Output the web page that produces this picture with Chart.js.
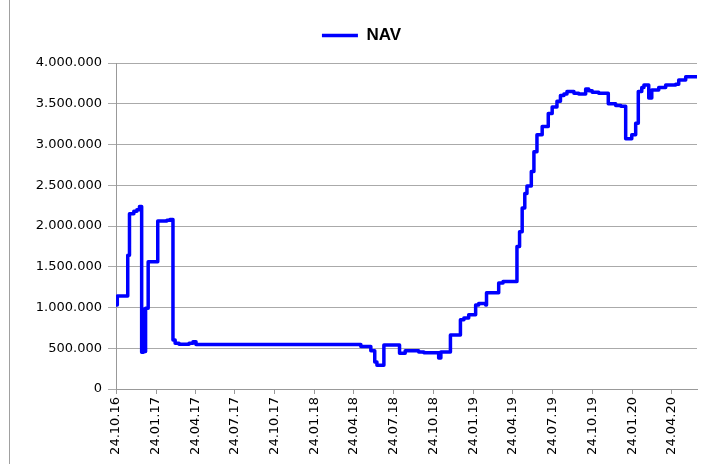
<!DOCTYPE html>
<html>
<head>
<meta charset="utf-8">
<script src="https://cdn.jsdelivr.net/npm/chart.js@4/dist/chart.umd.min.js"></script>
<style>
  body { margin: 0; background: #fff; }
  #wrap { position: relative; width: 707px; height: 464px; }
  #frame { position: absolute; left: 9px; top: 0; width: 1px; height: 464px; background: #a0a0a0; }
</style>
</head>
<body>
<div id="wrap">
  <canvas id="nav" width="707" height="464"></canvas>
  <div id="frame"></div>
</div>
<script>
// x axis tick labels (dd.mm.yy)
const tickLabels = [
  "24.10.16", "24.01.17", "24.04.17", "24.07.17", "24.10.17",
  "24.01.18", "24.04.18", "24.07.18", "24.10.18", "24.01.19",
  "24.04.19", "24.07.19", "24.10.19", "24.01.20", "24.04.20",
];

// dates where NAV changed, and the new value from that date on
const navDates = [
  "2016-10-24", "2016-10-27", "2016-11-20", "2016-11-24", "2016-12-04",
  "2016-12-11", "2016-12-17", "2016-12-22", "2016-12-26", "2016-12-28",
  "2016-12-31", "2017-01-06", "2017-01-28", "2017-02-18", "2017-02-25",
  "2017-03-04", "2017-03-09", "2017-03-18", "2017-04-10", "2017-04-19",
  "2017-04-26", "2018-05-10", "2018-06-02", "2018-06-11", "2018-06-16",
  "2018-07-02", "2018-08-07", "2018-08-20", "2018-09-20", "2018-10-02",
  "2018-11-05", "2018-11-10", "2018-12-02", "2018-12-25", "2019-01-02",
  "2019-01-13", "2019-01-29", "2019-02-05", "2019-02-21", "2019-02-23",
  "2019-03-23", "2019-04-02", "2019-05-04", "2019-05-10", "2019-05-16",
  "2019-05-22", "2019-05-27", "2019-06-06", "2019-06-12", "2019-06-19",
  "2019-07-01", "2019-07-15", "2019-07-24", "2019-08-04", "2019-08-12",
  "2019-08-20", "2019-08-27", "2019-09-12", "2019-09-23", "2019-10-09",
  "2019-10-16", "2019-10-24", "2019-11-08", "2019-11-30", "2019-12-17",
  "2019-12-29", "2020-01-09", "2020-01-23", "2020-02-01", "2020-02-07",
  "2020-02-15", "2020-02-20", "2020-03-02", "2020-03-09", "2020-03-25",
  "2020-04-10", "2020-05-03", "2020-05-10", "2020-05-26", "2020-06-21",
];
const navValues = [
  1030000, 1140000, 1640000, 2150000, 2180000,
  2200000, 2240000, 450000, 980000, 460000,
  990000, 1560000, 2060000, 2070000, 2080000,
  600000, 560000, 550000, 560000, 580000,
  545000, 520000, 470000, 330000, 290000,
  540000, 440000, 470000, 455000, 445000,
  380000, 455000, 662000, 850000, 870000,
  910000, 1030000, 1050000, 1030000, 1180000,
  1300000, 1320000, 1750000, 1930000, 2220000,
  2400000, 2490000, 2670000, 2910000, 3120000,
  3220000, 3380000, 3460000, 3530000, 3600000,
  3620000, 3650000, 3630000, 3620000, 3680000,
  3660000, 3640000, 3630000, 3500000, 3480000,
  3470000, 3070000, 3120000, 3260000, 3650000,
  3700000, 3730000, 3570000, 3670000, 3700000,
  3730000, 3740000, 3790000, 3830000, 3830000,
];

const DAY = 86400000;
const start = Date.UTC(2016, 9, 24);

function isoToDay(s) {
  const [y, m, d] = s.split("-").map(Number);
  return (Date.UTC(y, m - 1, d) - start) / DAY;
}
function labelToDay(s) {
  const [d, m, y] = s.split(".").map(Number);
  return (Date.UTC(2000 + y, m - 1, d) - start) / DAY;
}
function dots(v) {
  return String(v).replace(/\B(?=(\d{3})+(?!\d))/g, ".");
}

const tickDays = tickLabels.map(labelToDay);
const points = navDates.map((d, i) => ({ x: isoToDay(d), y: navValues[i] }));

// push the legend down a bit and a little to the right
const legendSpacing = {
  id: "legendSpacing",
  beforeInit(chart) {
    const fit = chart.legend.fit;
    chart.legend.fit = function () {
      fit.bind(chart.legend)();
      this.height += 9;
    };
  },
  afterLayout(chart) {
    chart.legend.left += 8;
    chart.legend.right += 8;
  },
};

const tickFont = { family: "DejaVu Sans", size: 13 };

new Chart(document.getElementById("nav"), {
  type: "line",
  data: {
    datasets: [
      {
        label: "NAV",
        data: points,
        borderColor: "#0000ff",
        backgroundColor: "#0000ff",
        borderWidth: 3.5,
        borderJoinStyle: "round",
        pointRadius: 0,
        stepped: "before",
        fill: false,
      },
    ],
  },
  options: {
    responsive: false,
    animation: false,
    layout: {
      padding: { top: 10, left: 10, right: 10, bottom: 0 },
    },
    scales: {
      x: {
        type: "linear",
        min: 0,
        max: isoToDay(navDates[navDates.length - 1]),
        afterBuildTicks: (scale) => {
          scale.ticks = tickDays.map((v) => ({ value: v }));
        },
        afterFit: (scale) => {
          scale.height = 75;
        },
        ticks: {
          autoSkip: false,
          minRotation: 90,
          maxRotation: 90,
          padding: 3,
          color: "#000",
          font: tickFont,
          callback: (value, index) => tickLabels[index],
        },
        grid: {
          drawOnChartArea: false,
          drawTicks: true,
          tickLength: 5,
          color: "#999",
        },
        border: { color: "#999" },
      },
      y: {
        min: 0,
        max: 4000000,
        afterFit: (scale) => {
          scale.width = 106;
        },
        ticks: {
          stepSize: 500000,
          padding: 6,
          color: "#000",
          font: tickFont,
          callback: (value) => dots(value),
        },
        grid: {
          color: "#aaa",
          tickLength: 8,
        },
        border: { color: "#999" },
      },
    },
    plugins: {
      legend: {
        position: "top",
        labels: {
          usePointStyle: true,
          pointStyle: "line",
          pointStyleWidth: 36,
          padding: 17,
          color: "#000",
          font: { family: "Liberation Sans", size: 17, weight: "bold" },
        },
      },
      tooltip: { enabled: false },
    },
  },
  plugins: [legendSpacing],
});
</script>
</body>
</html>
